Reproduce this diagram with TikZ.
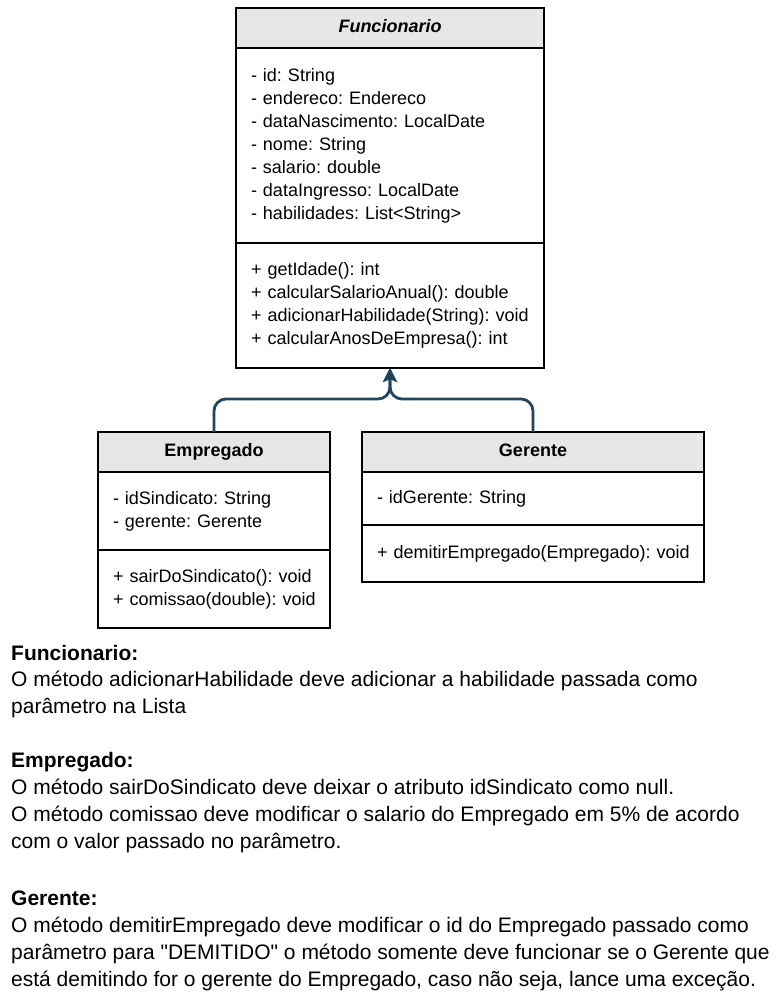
\documentclass[tikz,border=0pt]{standalone}
\usepackage{fontspec}
\setmainfont{Liberation Sans}[Ligatures=TeXOff]
\usetikzlibrary{arrows.meta}
\usetikzlibrary{positioning}

\definecolor{linha}{RGB}{35,68,93}
\definecolor{cabeca}{RGB}{230,230,230}

\begin{document}
\frenchspacing
\begin{tikzpicture}[x=1pt,y=-1pt,
    compart/.style={draw=black, line width=1.3pt, outer sep=0pt, inner ysep=0pt, inner xsep=10pt,
      font=\fontsize{18}{23}\selectfont},
    part/.style={compart, align=left, execute at begin node={\leftskip=5pt}},
    head/.style={compart, fill=cabeca, align=center, minimum height=40pt, text height=13pt, text depth=4pt},
    inh/.style={draw=linha, line width=2.8pt, rounded corners=12pt, -{Stealth[length=14pt,width=14pt,inset=3pt]}},
    nota/.style={anchor=base west, align=left, inner sep=0pt, font=\fontsize{21}{26.7}\selectfont}]
  \useasboundingbox (0,0) rectangle (776,1008);

  % Funcionario
  \node[head, anchor=north west, text width=288pt] (funcHead) at (236,8) {\textbf{\textit{Funcionario}}};
  \node[part, below=0pt of funcHead, text width=288pt, minimum height=195pt] (funcAttr)
    {- id: String\\- endereco: Endereco\\- dataNascimento: LocalDate\\- nome: String\\- salario: double\\- dataIngresso: LocalDate\\- habilidades: List<String>};
  \node[part, below=0pt of funcAttr, text width=288pt, minimum height=125pt] (funcMeth)
    {+ getIdade(): int\\+ calcularSalarioAnual(): double\\+ adicionarHabilidade(String): void\\+ calcularAnosDeEmpresa(): int};

  % Empregado
  \node[head, anchor=north west, text width=212pt] (empHead) at (98,432) {\textbf{Empregado}};
  \node[part, below=0pt of empHead, text width=212pt, minimum height=78pt] (empAttr)
    {- idSindicato: String\\- gerente: Gerente};
  \node[part, below=0pt of empAttr, text width=212pt, minimum height=78pt] (empMeth)
    {+ sairDoSindicato(): void\\+ comissao(double): void};

  % Gerente
  \node[head, anchor=north west, text width=322pt] (gerHead) at (362,432) {\textbf{Gerente}};
  \node[part, below=0pt of gerHead, text width=322pt, minimum height=53pt] (gerAttr)
    {- idGerente: String};
  \node[part, below=0pt of gerAttr, text width=322pt, minimum height=57pt] (gerMeth)
    {+ demitirEmpregado(Empregado): void};

  % heranca
  \coordinate (join) at (390,399);
  \draw[inh] (empHead.north) |- (join) -- (funcMeth.south -| join);
  \draw[inh] (gerHead.north) |- (join) -- (funcMeth.south -| join);

  % notas (base = ultima linha)
  \node[nota] (notaFunc) at (11,713.5) {\textbf{Funcionario:}\\
    O método adicionarHabilidade deve adicionar a habilidade passada como\\
    parâmetro na Lista};
  \node[nota] (notaEmp) at (11,848) {\textbf{Empregado:}\\
    O método sairDoSindicato deve deixar o atributo idSindicato como null.\\
    O método comissao deve modificar o salario do Empregado em 5\% de acordo\\
    com o valor passado no parâmetro.};
  \node[nota] (notaGer) at (11,986) {\textbf{Gerente:}\\
    O método demitirEmpregado deve modificar o id do Empregado passado como\\
    parâmetro para "DEMITIDO" o método somente deve funcionar se o Gerente que\\
    está demitindo for o gerente do Empregado, caso não seja, lance uma exceção.};
\end{tikzpicture}
\end{document}
